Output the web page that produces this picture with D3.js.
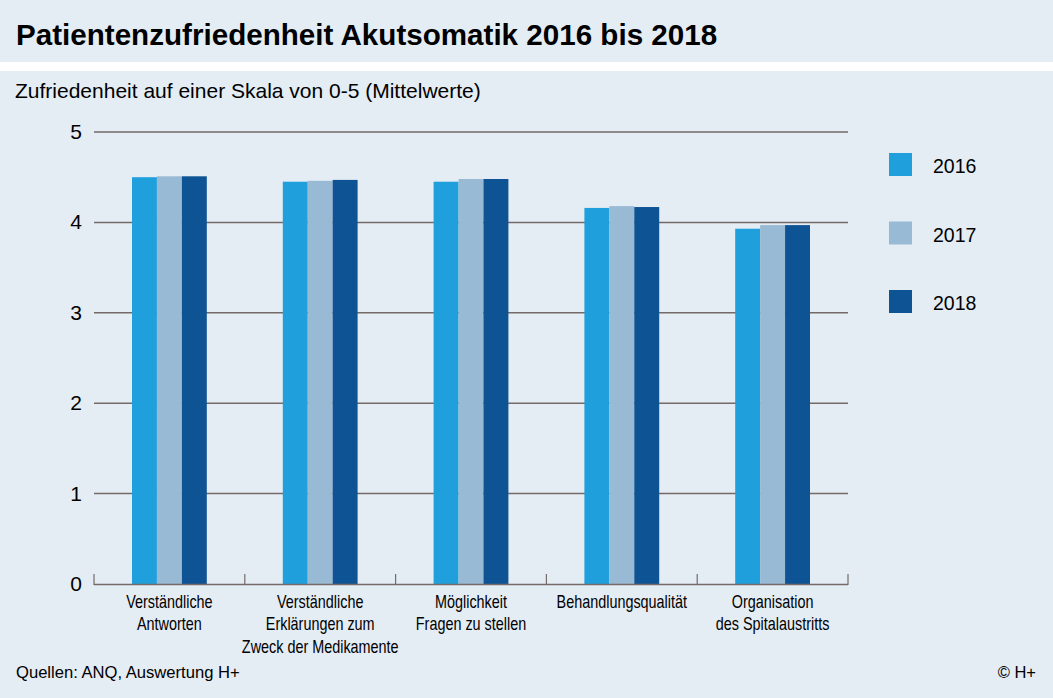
<!DOCTYPE html>
<html><head><meta charset="utf-8">
<script src="https://cdn.jsdelivr.net/npm/d3@7"></script>
<style>
body{margin:0;padding:0;background:#fff;}
svg{display:block;}
</style></head><body>
<svg id="c" width="1053" height="698"></svg>
<script>
const categories = [
  ["Verständliche","Antworten"],
  ["Verständliche","Erklärungen zum","Zweck der Medikamente"],
  ["Möglichkeit","Fragen zu stellen"],
  ["Behandlungsqualität"],
  ["Organisation","des Spitalaustritts"]
];
const years = ["2016","2017","2018"];
const values2016 = [4.50, 4.45, 4.45, 4.16, 3.93];
const values2017 = [4.51, 4.46, 4.48, 4.18, 3.97];
const values2018 = [4.51, 4.47, 4.48, 4.17, 3.97];
const yTicks = [0,1,2,3,4,5];
const colors = ["#1fa0dc","#98bad4","#0e5394"];

const series = [values2016, values2017, values2018];
const svg = d3.select("#c");
const sans = "'Liberation Sans',Arial,sans-serif";

svg.append("rect").attr("x",0).attr("y",0).attr("width",1053).attr("height",62).attr("fill","#e4ecf4");
svg.append("rect").attr("x",0).attr("y",71).attr("width",1053).attr("height",627).attr("fill","#e4ecf4");

svg.append("text").attr("x",16).attr("y",45).attr("font-family",sans).attr("font-weight","bold")
  .attr("font-size",29.6).attr("fill","#000").text("Patientenzufriedenheit Akutsomatik 2016 bis 2018");
svg.append("text").attr("x",15).attr("y",98).attr("font-family",sans)
  .attr("font-size",21).attr("fill","#000").text("Zufriedenheit auf einer Skala von 0-5 (Mittelwerte)");

const x0 = d3.scaleBand().domain(d3.range(categories.length)).range([94,848]).paddingInner(0).paddingOuter(0);
const x1 = d3.scaleBand().domain(d3.range(years.length)).range([38, x0.bandwidth()-38]).padding(0);
const y = d3.scaleLinear().domain([0,5]).range([584,132]);

// grid
svg.append("g").selectAll("line").data(yTicks.filter(d=>d>0)).join("line")
  .attr("x1",94).attr("x2",848).attr("y1",d=>y(d)).attr("y2",d=>y(d))
  .attr("stroke","#746b68").attr("stroke-width",1.5);
// y labels
svg.append("g").selectAll("text").data(yTicks).join("text")
  .attr("x",82).attr("y",d=>y(d)+7).attr("text-anchor","end")
  .attr("font-family",sans).attr("font-size",21).attr("fill","#000").text(d=>d);

// bars
const g = svg.append("g");
categories.forEach((c,i)=>{
  series.forEach((s,j)=>{
    g.append("rect").attr("x",x0(i)+x1(j)).attr("width",x1.bandwidth())
      .attr("y",y(s[i])).attr("height",y(0)-y(s[i])).attr("fill",colors[j]);
  });
});

// baseline axis
svg.append("line").attr("x1",94).attr("x2",848).attr("y1",584.5).attr("y2",584.5)
  .attr("stroke","#746b68").attr("stroke-width",1.5);
const bounds = d3.range(categories.length+1).map(i=> i<categories.length? x0(i) : 848);
svg.append("g").selectAll("line").data(bounds).join("line")
  .attr("x1",d=>d).attr("x2",d=>d).attr("y1",574).attr("y2",585)
  .attr("stroke","#746b68").attr("stroke-width",1.2);

// category labels (condensed)
categories.forEach((lines,i)=>{
  const cx = x0(i)+x0.bandwidth()/2;
  const t = svg.append("g").attr("transform",`translate(${cx},0) scale(0.8,1)`)
    .append("text").attr("text-anchor","middle").attr("font-family",sans)
    .attr("font-size",18).attr("fill","#000");
  lines.forEach((l,k)=>{
    t.append("tspan").attr("x",0).attr("y",608+k*22.5).text(l);
  });
});

// legend
const lg = svg.append("g");
years.forEach((yr,j)=>{
  lg.append("rect").attr("x",889).attr("y",153+j*68.5).attr("width",23).attr("height",23).attr("fill",colors[j]);
  lg.append("text").attr("x",933).attr("y",173+j*68.5).attr("font-family",sans).attr("font-size",19.5)
    .attr("fill","#000").text(yr);
});

svg.append("text").attr("x",16).attr("y",678).attr("font-family",sans).attr("font-size",16.6)
  .attr("fill","#000").text("Quellen: ANQ, Auswertung H+");
svg.append("text").attr("x",1036).attr("y",678).attr("text-anchor","end").attr("font-family",sans).attr("font-size",16.5)
  .attr("fill","#000").text("© H+");
</script>
</body></html>
